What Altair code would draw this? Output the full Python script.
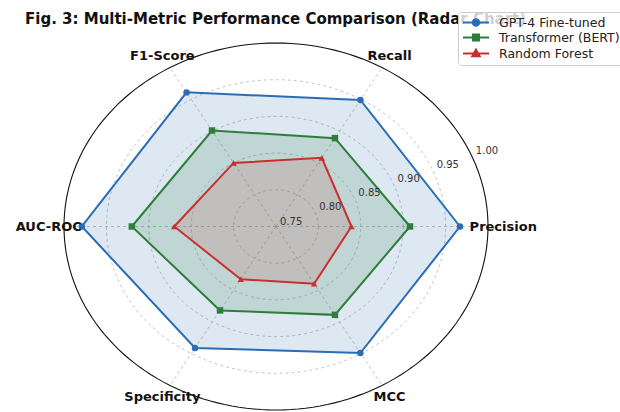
import altair as alt
import pandas as pd

# ---------------- data ----------------
title_text = "Fig. 3: Multi-Metric Performance Comparison (Radar Chart)"
metrics = ["Precision", "Recall", "F1-Score", "AUC-ROC", "Specificity", "MCC"]
models = ["GPT-4 Fine-tuned", "Transformer (BERT)", "Random Forest"]
gpt4_values = [0.967, 0.949, 0.961, 0.979, 0.941, 0.949]
bert_values = [0.908, 0.889, 0.901, 0.920, 0.882, 0.889]
rf_values = [0.839, 0.858, 0.850, 0.870, 0.833, 0.840]
radial_ticks = [0.75, 0.80, 0.85, 0.90, 0.95, 1.00]
radial_tick_labels = ["0.75", "0.80", "0.85", "0.90", "0.95", "1.00"]

# ---------------- style ----------------
R_MIN, R_MAX = 0.75, 1.00
SPAN = R_MAX - R_MIN
LABEL_R = 0.268
COLORS = ["#2a6db5", "#2e7d3a", "#c8302f"]
FILL_OPACITY = [0.16, 0.16, 0.14]
MARKERS = ["circle", "square", "triangle-up"]
LEGEND_PATHS = [
    "M-1,0L3.73,0M1.95,0A0.59,0.59,0,1,1,0.77,0A0.59,0.59,0,1,1,1.95,0Z",
    "M-1,0L3.73,0M0.81,-0.55L1.91,-0.55L1.91,0.55L0.81,0.55Z",
    "M-1,0L3.73,0M1.36,-0.7L2.04,0.52L0.68,0.52Z",
]
FONT = "DejaVu Sans"

n = len(metrics)
series = [gpt4_values, bert_values, rf_values]
rows = []
for model, vals in zip(models, series):
    for k in range(n + 1):
        i = k % n
        rows.append({"model": model, "metric": metrics[i], "idx": i, "ord": k, "value": vals[i]})
poly_df = pd.DataFrame(rows)
metric_df = pd.DataFrame({"metric": metrics, "idx": list(range(n))})
ring_df = pd.DataFrame({"tick": radial_ticks, "label": radial_tick_labels})

xs = alt.Scale(domain=[-SPAN, SPAN], nice=False, zero=False)
ys = alt.Scale(domain=[-SPAN, SPAN], nice=False, zero=False)


def X(f):
    return alt.X(f"{f}:Q", scale=xs, axis=None)


def Y(f):
    return alt.Y(f"{f}:Q", scale=ys, axis=None)


ANG = "datum.idx * PI / 3"

# grid rings
ring_base = (
    alt.Chart(ring_df)
    .transform_calculate(a="sequence(0, 362, 2)")
    .transform_flatten(["a"])
    .transform_calculate(
        gx=f"(datum.tick - {R_MIN}) * cos(datum.a * PI / 180)",
        gy=f"(datum.tick - {R_MIN}) * sin(datum.a * PI / 180)",
    )
)
grid_rings = (
    ring_base.transform_filter(f"datum.tick > {R_MIN} && datum.tick < {R_MAX}")
    .mark_line(stroke="#b5b5b5", strokeWidth=0.8, strokeDash=[3, 3])
    .encode(x=X("gx"), y=Y("gy"), detail="tick:N", order="a:Q")
)
outer_ring = (
    ring_base.transform_filter(f"datum.tick >= {R_MAX}")
    .mark_line(stroke="#111111", strokeWidth=1.1)
    .encode(x=X("gx"), y=Y("gy"), detail="tick:N", order="a:Q")
)

# spokes
spokes = (
    alt.Chart(metric_df)
    .transform_calculate(
        cx="0", cy="0",
        ex=f"{SPAN} * cos({ANG})", ey=f"{SPAN} * sin({ANG})",
    )
    .mark_rule(stroke="#b5b5b5", strokeWidth=0.8, strokeDash=[3, 3])
    .encode(x=X("cx"), y=Y("cy"), x2="ex:Q", y2="ey:Q")
)

poly_base = (
    alt.Chart(poly_df)
    .transform_calculate(r=f"datum.value - {R_MIN}")
    .transform_calculate(px=f"datum.r * cos({ANG})", py=f"datum.r * sin({ANG})")
)

layers = [grid_rings, spokes, outer_ring]
for i, m in enumerate(models):
    sub = poly_base.transform_filter(alt.datum.model == m)
    layers.append(
        sub.mark_line(stroke=COLORS[i], strokeWidth=2, fill=COLORS[i],
                      fillOpacity=FILL_OPACITY[i])
        .encode(x=X("px"), y=Y("py"), order="ord:Q")
    )
    layers.append(
        sub.transform_filter(f"datum.ord < {n}")
        .mark_point(shape=MARKERS[i], filled=True, color=COLORS[i], size=42, opacity=1)
        .encode(x=X("px"), y=Y("py"))
    )

# legend (symbols only, no marks drawn)
leg = alt.Legend(
    title=None, orient="none", legendX=394, legendY=-31, zindex=1,
    labelFont=FONT, labelFontSize=12.5, labelColor="#222222",
    symbolSize=121, symbolStrokeWidth=2, symbolOpacity=1,
    labelOffset=24, rowPadding=0, padding=4,
    fillColor="rgba(255,255,255,0.8)", strokeColor="#cccccc", cornerRadius=3,
)
legend_layer = (
    poly_base.transform_filter("false")
    .mark_point(filled=True, strokeWidth=2)
    .encode(
        x=X("px"), y=Y("py"),
        fill=alt.Fill("model:N", scale=alt.Scale(domain=models, range=COLORS), legend=leg),
        stroke=alt.Stroke("model:N", scale=alt.Scale(domain=models, range=COLORS), legend=leg),
        shape=alt.Shape("model:N", scale=alt.Scale(domain=models, range=LEGEND_PATHS), legend=leg),
    )
)
layers.append(legend_layer)

# metric labels
metric_labels = (
    alt.Chart(metric_df)
    .transform_calculate(lx=f"{LABEL_R} * cos({ANG})", ly=f"{LABEL_R} * sin({ANG})")
    .mark_text(font=FONT, fontSize=13, fontWeight="bold", color="#111111",
               align="center", baseline="middle")
    .encode(x=X("lx"), y=Y("ly"), text="metric:N")
)
tick_labels = (
    alt.Chart(ring_df)
    .transform_calculate(
        tx=f"(datum.tick - {R_MIN}) * cos(PI / 8)",
        ty=f"(datum.tick - {R_MIN}) * sin(PI / 8)",
    )
    .mark_text(font=FONT, fontSize=10, color="#333333", align="left",
               baseline="middle", dx=4, dy=-5)
    .encode(x=X("tx"), y=Y("ty"), text="label:N")
)
layers += [metric_labels, tick_labels]

chart = (
    alt.layer(*layers)
    .properties(
        width=424, height=367,
        autosize=alt.AutoSizeParams(type="none"),
        padding={"left": 64, "top": 43, "right": 132, "bottom": 2},
        title=alt.TitleParams(
            text=title_text, anchor="start", frame="group", dx=-39, dy=15, offset=0,
            font=FONT, fontSize=15, fontWeight="bold", color="#111111",
        ),
    )
    .configure_view(stroke=None)
)

chart.save("out.html", embed_options={"renderer": "svg", "actions": False})
